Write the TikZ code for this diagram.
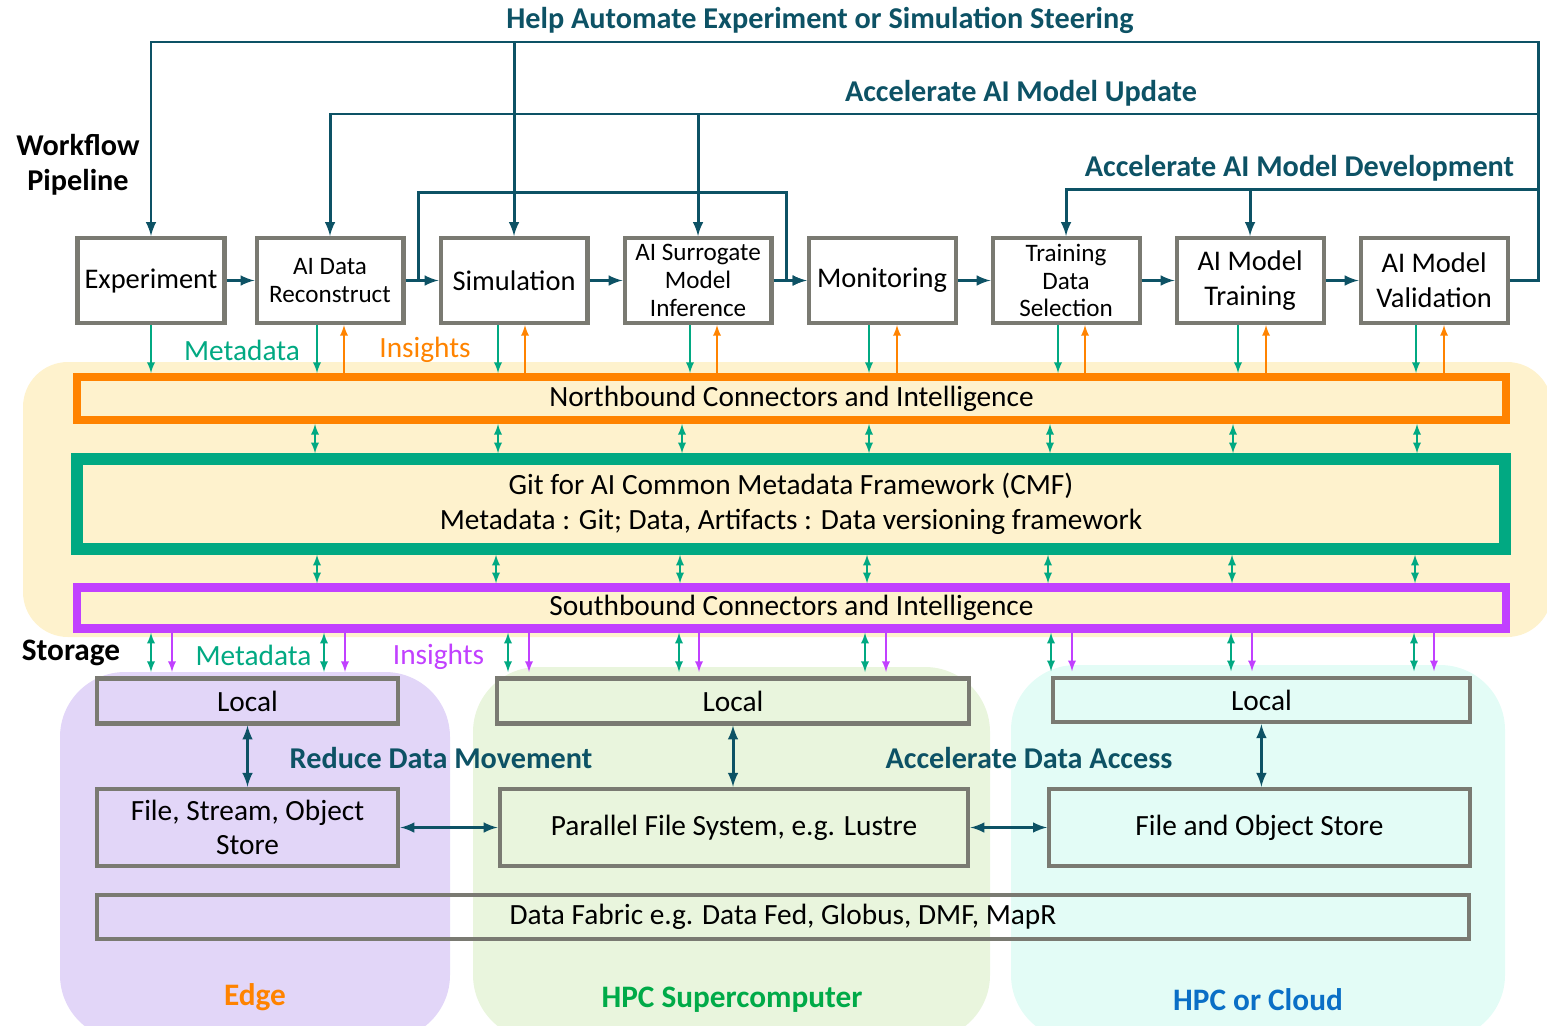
\documentclass[tikz,border=0pt]{standalone}
\usepackage{fontspec}
\setmainfont{Carlito}
\usetikzlibrary{positioning,arrows,calc}
\definecolor{hpesteel}{HTML}{0D5265}
\definecolor{hpegreen}{HTML}{01A982}
\definecolor{hpeorange}{HTML}{FF8300}
\definecolor{hpepurple}{HTML}{C140FF}
\definecolor{boxgray}{HTML}{7A7A72}
\definecolor{bgyellow}{HTML}{FEF2CD}
\definecolor{bgedge}{HTML}{E2D6F8}
\definecolor{bghpc}{HTML}{E9F5DD}
\definecolor{bgcloud}{HTML}{E3FCF6}
\definecolor{hpcgreen}{HTML}{00AA48}
\definecolor{cloudblue}{HTML}{0A6FC6}
\def\stagewid{2.94cm}
\def\stagehgt{1.70cm}
\def\stagegap{0.66cm}
\def\buswid{28.58cm}
\newcommand{\bigtext}{\fontsize{16.2}{19.8}\selectfont}
\newcommand{\smalltext}{\fontsize{14.3}{15.9}\selectfont}
\newcommand{\bustext}{\fontsize{16.7}{19.8}\selectfont}
\newcommand{\goaltext}{\fontsize{17.2}{19.8}\selectfont\bfseries}
\newcommand{\tiertext}{\fontsize{17.8}{19.8}\selectfont\bfseries}

\begin{document}
\begin{tikzpicture}[
            x=0.02cm, y=-0.02cm,
            stage/.style={%
                draw=boxgray, line width=2.3pt, fill=white, rectangle,%
                minimum width=\stagewid, minimum height=\stagehgt,%
                inner sep=1pt, align=center, font=\bigtext%
            },
            smallstage/.style={stage, font=\smalltext},
            bus/.style={%
                rectangle, minimum width=\buswid, inner sep=0pt,%
                align=center, font=\bustext%
            },
            storebox/.style={%
                draw=boxgray, line width=2.3pt, rectangle,%
                inner sep=0pt, align=center, font=\bustext%
            },
            goal/.style={text=hpesteel, font=\goaltext},
            heading/.style={text=black, font=\goaltext, align=center},
            flow/.style={draw=hpesteel, line width=1.7pt, ->, >=latex},
            link/.style={draw=hpesteel, line width=1.7pt, <->, >=latex},
            metaarrow/.style={draw=hpegreen, line width=1.1pt, ->, >=latex},
            insarrow/.style={draw=hpeorange, line width=1.1pt, ->, >=latex},
            busarrow/.style={draw=hpegreen, line width=1.1pt, <->, >=latex},
            sbarrow/.style={draw=hpepurple, line width=1.1pt, ->, >=latex}
        ]

        \useasboundingbox (0,0) rectangle (1547,1025);

        % Backgrounds
        \fill[bgyellow, rounded corners=0.9cm] (23,362) rectangle (1552,637);
        \fill[bgedge, rounded corners=1.3cm] (60,672) rectangle (450,1040);
        \fill[bghpc, rounded corners=1.3cm] (473,667) rectangle (990,1040);
        \fill[bgcloud, rounded corners=1.3cm] (1011,665) rectangle (1505,1040);

        % Define nodes
        \node (exp) [stage] at (151,280.5) {Experiment};
        \node (recon) [smallstage, right=0.56cm of exp] {AI Data\\Reconstruct};
        \node (sim) [stage, right=\stagegap of recon] {Simulation};
        \node (sur) [smallstage, right=\stagegap of sim] {AI Surrogate\\Model\\Inference};
        \node (mon) [stage, right=\stagegap of sur] {Monitoring};
        \node (tds) [smallstage, right=\stagegap of mon] {Training\\Data\\Selection};
        \node (train) [stage, right=\stagegap of tds] {AI Model\\Training};
        \node (val) [stage, right=\stagegap of train] {AI Model\\Validation};

        \node (nb) [bus, draw=hpeorange, line width=4.5pt, minimum height=0.86cm] 
            at (791.5,398.5) {Northbound Connectors and Intelligence};
        \node (cmf) [bus, draw=hpegreen, line width=6.8pt, minimum height=1.79cm] 
            at (791,504) {Git for AI Common Metadata Framework (CMF)\\
            Metadata : Git; Data, Artifacts : Data versioning framework};
        \node (sb) [bus, draw=hpepurple, line width=4.8pt, minimum height=0.82cm] 
            at (791.5,608) {Southbound Connectors and Intelligence};

        \node (eloc) [storebox, minimum width=6.04cm, minimum height=0.9cm] 
            at (247.5,701) {Local};
        \node (hloc) [storebox, minimum width=9.44cm, minimum height=0.9cm] 
            at (733,701) {Local};
        \node (cloc) [storebox, minimum width=8.34cm, minimum height=0.89cm] 
            at (1261.4,700) {Local};
        \node (estore) [storebox, minimum width=6.04cm, minimum height=1.55cm] 
            at (247.5,827.5) {File, Stream, Object\\Store};
        \node (hstore) [storebox, minimum width=9.38cm, minimum height=1.55cm] 
            at (734,827.5) {Parallel File System, e.g. Lustre};
        \node (cstore) [storebox, minimum width=8.42cm, minimum height=1.55cm] 
            at (1259.4,827.5) {File and Object Store};
        \node (fabric) [storebox, minimum width=27.46cm, minimum height=0.87cm] 
            at (783,917) {Data Fabric e.g. Data Fed, Globus, DMF, MapR};

        % Labels
        \node (steer) [goal] at (820,20) {Help Automate Experiment or Simulation Steering};
        \node (upd) [goal] at (1021,93) {Accelerate AI Model Update};
        \node (dev) [goal] at (1299.5,168) {Accelerate AI Model Development};
        \node (wf) [heading] at (78,164.5) {Workflow\\Pipeline};
        \node (stor) [heading, font=\tiertext] at (71,653) {Storage};
        \node (mdtop) [text=hpegreen, font=\bustext] at (242,350) {Metadata};
        \node (instop) [text=hpeorange, font=\bustext] at (425,350) {Insights};
        \node (mdbot) [text=hpegreen, font=\bustext] at (253.5,655) {Metadata};
        \node (insbot) [text=hpepurple, font=\bustext] at (438.5,657) {Insights};
        \node (rdm) [goal] at (441,758) {Reduce Data Movement};
        \node (ada) [goal] at (1029,758) {Accelerate Data Access};
        \node (edge) [font=\tiertext, text=hpeorange] at (255,997) {Edge};
        \node (hpc) [font=\tiertext, text=hpcgreen] at (732,1000) {HPC Supercomputer};
        \node (cloud) [font=\tiertext, text=cloudblue] at (1258,1000) {HPC or Cloud};

        % Pipeline
        \foreach \a/\b in {exp/recon, recon/sim, sim/sur, sur/mon, mon/tds, tds/train, train/val}
            \draw [flow] (\a) -- (\b);

        \coordinate (byL) at (418,192);
        \coordinate (byR) at (786,192);
        \draw [flow] (byL |- recon.east) -- (byL) -- (byR) |- (mon.west);

        % Feedback loops
        \coordinate (steerR) at (1538,42);
        \draw [flow] (val.east) -| (steerR) -| (exp.north);
        \draw [flow] (steerR -| sim.north) -- (sim.north);

        \coordinate (updR) at (1538,114);
        \draw [flow] (updR) -| (recon.north);
        \draw [flow] (updR -| sur.north) -- (sur.north);

        \coordinate (devR) at (1538,189);
        \draw [flow] (devR) -| (tds.north);
        \draw [flow] (devR -| train.north) -- (train.north);

        % Metadata and insights
        \draw [metaarrow] (exp.south) -- (exp.south |- nb.north);
        \foreach \n/\g/\o in {recon/317/344, sim/498/525, sur/690/717, mon/869/897,
                tds/1058/1085, train/1238/1266, val/1416/1444} {
            \draw [metaarrow] (\n.south -| \g,0) -- (nb.north -| \g,0);
            \draw [insarrow] (nb.north -| \o,0) -- (\n.south -| \o,0);
        }
        \foreach \x in {315,498,682,869,1050,1233,1417}
            \draw [busarrow] (nb.south -| \x,0) -- (cmf.north -| \x,0);
        \foreach \x in {317,496,680,867,1048,1232,1415}
            \draw [busarrow] (cmf.south -| \x,0) -- (sb.north -| \x,0);
        \foreach \g/\p/\n in {151/172/eloc, 324/345/eloc, 508/529/hloc, 679/699/hloc,
                865/886/hloc, 1051/1072/cloc, 1231/1252/cloc, 1414/1434/cloc} {
            \draw [busarrow, shorten >=0.09cm] (sb.south -| \g,0) -- (\n.north -| \g,0);
            \draw [sbarrow, shorten >=0.09cm] (sb.south -| \p,0) -- (\n.north -| \p,0);
        }

        % Storage tiers
        \draw [link] (eloc) -- (estore);
        \draw [link] (hloc.south) -- (hloc.south |- hstore.north);
        \draw [link] (cloc.south) -- (cloc.south |- cstore.north);
        \draw [link] (estore) -- (hstore);
        \draw [link] (hstore) -- (cstore);

\end{tikzpicture}
\end{document}
